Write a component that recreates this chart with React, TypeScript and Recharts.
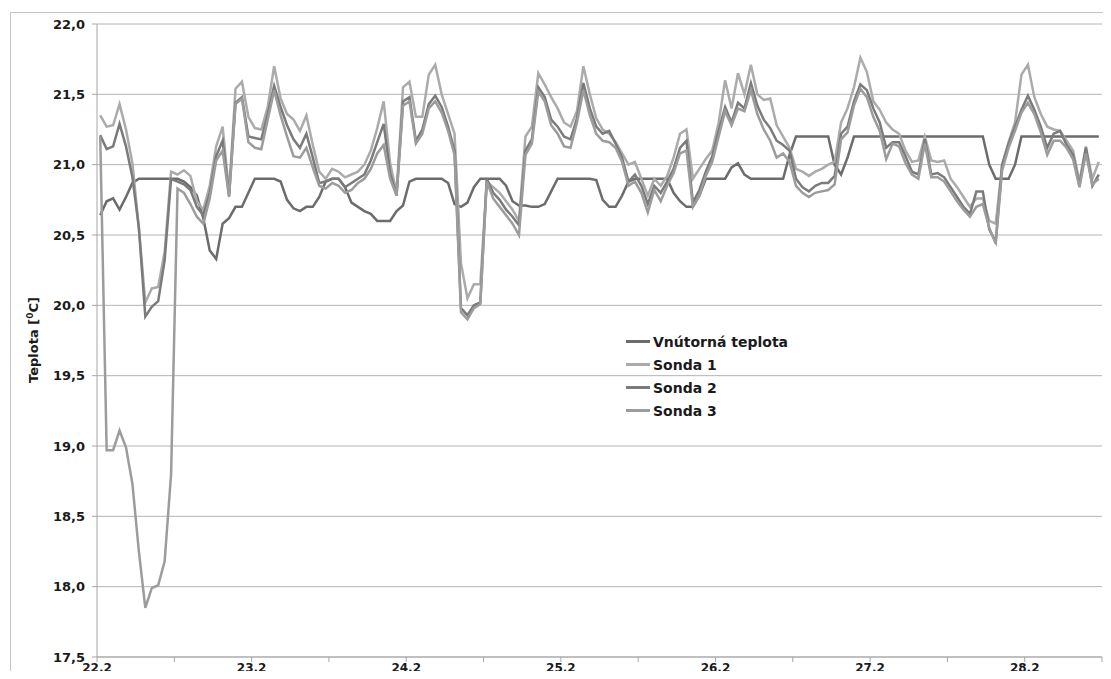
import { CartesianGrid, Legend, Line, LineChart, XAxis, YAxis } from "recharts";

// hodinové merania, 24 bodov na deň, začiatok 22.2
const dayLabels = ["22.2", "23.2", "24.2", "25.2", "26.2", "27.2", "28.2"];
const yTicks = [17.5, 18, 18.5, 19, 19.5, 20, 20.5, 21, 21.5, 22];

const vnutorna = [
  20.64, 20.74, 20.76, 20.68, 20.77, 20.87, 20.9, 20.9, 20.9, 20.9, 20.9,
  20.9, 20.9, 20.88, 20.84, 20.78, 20.62, 20.39, 20.33, 20.58, 20.62,
  20.7, 20.7, 20.8, 20.9, 20.9, 20.9, 20.9, 20.88, 20.75, 20.69,
  20.67, 20.7, 20.7, 20.77, 20.88, 20.9, 20.9, 20.84, 20.73, 20.7,
  20.67, 20.65, 20.6, 20.6, 20.6, 20.67, 20.71, 20.88, 20.9, 20.9,
  20.9, 20.9, 20.9, 20.87, 20.72, 20.7, 20.73, 20.84, 20.9, 20.9, 20.9,
  20.9, 20.85, 20.74, 20.71, 20.71, 20.7, 20.7, 20.72, 20.81, 20.9, 20.9,
  20.9, 20.9, 20.9, 20.9, 20.89, 20.75, 20.7, 20.7, 20.78, 20.88, 20.9, 20.9,
  20.9, 20.9, 20.9, 20.9, 20.8, 20.74, 20.7, 20.7,
  20.78, 20.9, 20.9, 20.9, 20.9, 20.98, 21.01, 20.93, 20.9, 20.9, 20.9,
  20.9, 20.9, 20.9, 21.07, 21.2, 21.2, 21.2, 21.2, 21.2, 21.2,
  21.0, 20.93, 21.05, 21.2, 21.2, 21.2, 21.2, 21.2, 21.2, 21.2,
  21.2, 21.2, 21.2, 21.2, 21.2, 21.2, 21.2, 21.2, 21.2, 21.2, 21.2, 21.2,
  21.2, 21.2, 21.0, 20.9, 20.9, 20.9, 21.0, 21.2, 21.2, 21.2,
  21.2, 21.2, 21.2, 21.2, 21.2, 21.2, 21.2, 21.2, 21.2, 21.2,
];

const sonda1 = [
  21.35, 21.27, 21.28, 21.43, 21.25, 21.01, 20.55, 20.02, 20.12, 20.13, 20.38,
  20.95, 20.93, 20.96, 20.92, 20.74, 20.68, 20.85, 21.13, 21.27, 20.8,
  21.54, 21.59, 21.34, 21.26, 21.25, 21.41, 21.7, 21.47, 21.36, 21.32,
  21.24, 21.35, 21.14, 20.95, 20.9, 20.97, 20.95, 20.91, 20.93, 20.95,
  21.0, 21.1, 21.26, 21.45, 21.01, 20.8, 21.55, 21.59, 21.34, 21.34,
  21.64, 21.71, 21.5, 21.36, 21.22, 20.3, 20.05, 20.15, 20.15, 20.88, 20.84,
  20.8, 20.74, 20.68, 20.6, 21.2, 21.27, 21.65, 21.57, 21.48, 21.4, 21.3,
  21.27, 21.38, 21.7, 21.5, 21.33, 21.25, 21.22, 21.16, 21.08, 21.0, 21.02, 20.9,
  20.78, 20.9, 20.85, 20.92, 21.05, 21.22, 21.25, 20.9,
  20.97, 21.04, 21.1, 21.3, 21.6, 21.4, 21.65, 21.5, 21.71, 21.5, 21.46,
  21.47, 21.28, 21.2, 21.12, 20.97, 20.95, 20.92, 20.95, 20.97, 21.0,
  21.02, 21.3, 21.4, 21.55, 21.76, 21.66, 21.45, 21.39, 21.3, 21.25,
  21.22, 21.1, 21.02, 21.03, 21.2, 21.03, 21.02, 21.03, 20.9, 20.84, 20.77, 20.7,
  20.76, 20.76, 20.6, 20.58, 21.0, 21.16, 21.3, 21.64, 21.71, 21.48,
  21.36, 21.27, 21.25, 21.24, 21.17, 21.1, 20.88, 21.13, 20.9, 21.02,
];

const sonda2 = [
  21.21, 21.11, 21.13, 21.29, 21.13, 20.91, 20.55, 19.92, 19.99, 20.03, 20.32,
  20.9, 20.88, 20.86, 20.82, 20.7, 20.64, 20.8, 21.06, 21.17, 20.78,
  21.44, 21.48, 21.2, 21.19, 21.18, 21.36, 21.56, 21.41, 21.28, 21.18,
  21.12, 21.22, 21.05, 20.87, 20.88, 20.9, 20.9, 20.84, 20.87, 20.9,
  20.93, 21.03, 21.16, 21.29, 20.94, 20.78, 21.45, 21.48, 21.17, 21.25,
  21.43, 21.49, 21.41, 21.27, 21.1, 19.98, 19.93, 20.0, 20.02, 20.9, 20.8,
  20.75, 20.68, 20.63, 20.57, 21.1, 21.18, 21.55, 21.48, 21.32, 21.27, 21.2,
  21.18, 21.33, 21.58, 21.4, 21.27, 21.22, 21.24, 21.15, 21.05, 20.88, 20.93, 20.85,
  20.72, 20.85, 20.8, 20.88, 20.97, 21.12, 21.17, 20.73,
  20.82, 20.95, 21.06, 21.24, 21.41, 21.3, 21.44, 21.4, 21.58, 21.42, 21.32,
  21.26, 21.17, 21.14, 21.1, 20.9, 20.84, 20.81, 20.85, 20.87, 20.87,
  20.92, 21.22, 21.27, 21.45, 21.57, 21.53, 21.4, 21.3, 21.12, 21.16,
  21.16, 21.06, 20.95, 20.93, 21.18, 20.93, 20.94, 20.91, 20.84, 20.77, 20.7, 20.65,
  20.81, 20.81, 20.54, 20.45, 21.0, 21.15, 21.27, 21.39, 21.49, 21.39,
  21.27, 21.12, 21.22, 21.24, 21.14, 21.07, 20.85, 21.12, 20.85, 20.93,
];

const sonda3 = [
  21.2, 18.97, 18.97, 19.11, 18.99, 18.73, 18.25, 17.85, 17.99, 18.01, 18.18,
  18.8, 20.83, 20.8, 20.72, 20.63, 20.58, 20.76, 21.03, 21.1, 20.77,
  21.43, 21.47, 21.16, 21.12, 21.11, 21.32, 21.53, 21.35, 21.2, 21.06,
  21.05, 21.12, 20.98, 20.85, 20.83, 20.87, 20.85, 20.8, 20.82, 20.87,
  20.9, 20.97, 21.08, 21.14, 20.9, 20.78, 21.42, 21.45, 21.15, 21.22,
  21.4, 21.45, 21.37, 21.24, 21.07, 19.95, 19.9, 19.98, 20.01, 20.88, 20.76,
  20.7, 20.64, 20.58, 20.5, 21.07, 21.15, 21.52, 21.45, 21.28, 21.22, 21.13,
  21.12, 21.3, 21.53, 21.35, 21.22, 21.17, 21.16, 21.12, 21.02, 20.85, 20.88, 20.8,
  20.66, 20.82, 20.74, 20.85, 20.94, 21.08, 21.1, 20.7,
  20.78, 20.92, 21.02, 21.2, 21.38, 21.28, 21.4, 21.38, 21.53, 21.36, 21.25,
  21.17, 21.05, 21.08, 21.02, 20.85, 20.8, 20.77, 20.8, 20.81, 20.82,
  20.86, 21.18, 21.23, 21.42, 21.54, 21.48, 21.34, 21.24, 21.04, 21.15,
  21.13, 21.01, 20.93, 20.9, 21.15, 20.91, 20.91, 20.88, 20.81, 20.74, 20.68, 20.63,
  20.7, 20.72, 20.55, 20.44, 20.96, 21.12, 21.24, 21.37, 21.44, 21.36,
  21.23, 21.07, 21.17, 21.17, 21.12, 21.04, 20.84, 21.08, 20.86, 20.9,
];

const series = [
  { key: "vnutorna", name: "Vnútorná teplota", color: "#6c6c6c", values: vnutorna },
  { key: "sonda1", name: "Sonda 1", color: "#ababab", values: sonda1 },
  { key: "sonda2", name: "Sonda 2", color: "#7b7b7b", values: sonda2 },
  { key: "sonda3", name: "Sonda 3", color: "#9c9c9c", values: sonda3 },
];

const perDay = 24;
const count = vnutorna.length;
const data = vnutorna.map((_, i) => {
  const row: Record<string, number> = { t: i + 0.5 };
  series.forEach((s) => (row[s.key] = s.values[i]));
  return row;
});
const xTicks = Array.from({ length: Math.floor(count / 12) + 1 }, (_, k) => k * 12);

const font = "'DejaVu Sans', sans-serif";
const axisColor = "#a6a6a6";
const tick = { fontSize: 13, fontWeight: 700, fill: "#1a1a1a", fontFamily: font };

function YTitle() {
  return (
    <text
      x={38}
      y={340}
      transform="rotate(-90 38 340)"
      textAnchor="middle"
      fontFamily={font}
      fontSize={13}
      fontWeight={700}
      fill="#1a1a1a"
    >
      <tspan>Teplota [</tspan>
      <tspan dy={-5} fontSize={9}>0</tspan>
      <tspan dy={5}>C]</tspan>
    </text>
  );
}

function LegendBox() {
  return (
    <div style={{ fontFamily: font, fontSize: 14, fontWeight: 700, color: "#1a1a1a" }}>
      {series.map((s) => (
        <div key={s.key} style={{ display: "flex", alignItems: "center", height: 23 }}>
          <span style={{ width: 24, height: 2.5, background: s.color, marginRight: 3 }} />
          <span>{s.name}</span>
        </div>
      ))}
    </div>
  );
}

export default function App() {
  return (
    <div
      style={{
        position: "relative",
        width: 1111,
        height: 679,
        margin: -8,
        overflow: "hidden",
        background: "#fff",
      }}
    >
      <div
        style={{
          position: "absolute",
          left: 10,
          top: 12,
          width: 1300,
          height: 900,
          borderLeft: "1px solid #c4c4c4",
          borderTop: "1px solid #c4c4c4",
        }}
      />
      <LineChart
        width={1111}
        height={679}
        data={data}
        margin={{ top: 24, right: 9, left: 0, bottom: 0 }}
        style={{ position: "absolute", left: 0, top: 0 }}
      >
        <CartesianGrid vertical={false} stroke="#b4b4b4" />
        <XAxis
          dataKey="t"
          type="number"
          domain={[0, count]}
          ticks={xTicks}
          interval={0}
          height={22}
          tickSize={5}
          tickMargin={1}
          stroke={axisColor}
          tick={{ ...tick, fontSize: 12 }}
          tickFormatter={(v: number) => (v % perDay === 0 ? dayLabels[v / perDay] ?? "" : "")}
        />
        <YAxis
          type="number"
          domain={[17.5, 22]}
          ticks={yTicks}
          interval={0}
          width={97}
          tickSize={5}
          tickMargin={7}
          stroke={axisColor}
          tick={tick}
          tickFormatter={(v: number) => v.toFixed(1).replace(".", ",")}
          label={{ content: YTitle }}
        />
        <Legend
          layout="vertical"
          align="center"
          verticalAlign="middle"
          content={LegendBox}
          wrapperStyle={{ position: "absolute", left: 626, top: 330, width: 220 }}
        />
        {series.map((s) => (
          <Line
            key={s.key}
            dataKey={s.key}
            name={s.name}
            type="linear"
            stroke={s.color}
            strokeWidth={2.5}
            dot={false}
            isAnimationActive={false}
          />
        ))}
      </LineChart>
    </div>
  );
}
